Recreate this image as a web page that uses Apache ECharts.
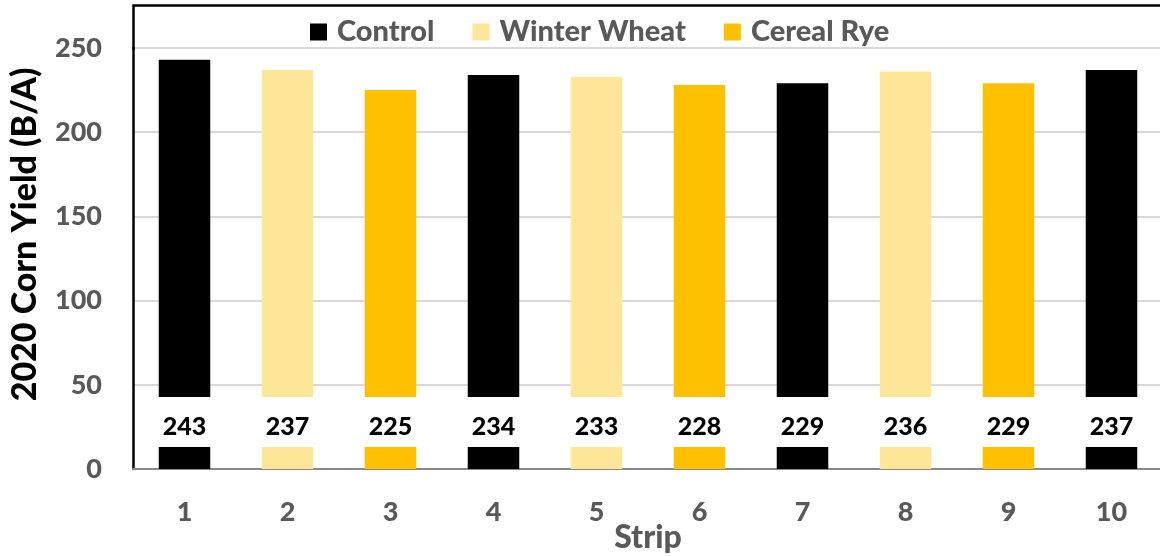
<!DOCTYPE html>
<html>
<head>
<meta charset="utf-8">
<script src="https://cdn.jsdelivr.net/npm/echarts@6/dist/echarts.min.js"></script>
<style>
html,body{margin:0;padding:0;background:#fff;}
#chart{width:1160px;height:556px;}
</style>
</head>
<body>
<div id="chart"></div>
<script>
const categories = ['1','2','3','4','5','6','7','8','9','10'];
const control     = [243, null, null, 234, null, null, 229, null, null, 237];
const winterWheat = [null, 237, null, null, 233, null, null, 236, null, null];
const cerealRye   = [null, null, 225, null, null, 228, null, null, 229, null];
const seriesNames = ['Control', 'Winter Wheat', 'Cereal Rye'];
const seriesColors = ['#000000', '#FFE699', '#FFC000'];

const FONT = 'Lato';
const chart = echarts.init(document.getElementById('chart'), null, {renderer: 'canvas'});

const labelCfg = {
  show: true,
  position: 'insideBottom',
  distance: 22,
  color: '#000',
  fontFamily: FONT,
  fontWeight: 900,
  fontSize: 25,
  lineHeight: 25,
  backgroundColor: '#fff',
  padding: [17, 8, 8, 8]
};

function mk(name, data, color) {
  return {
    name: name,
    type: 'bar',
    stack: 'all',
    barWidth: '50%',
    data: data,
    itemStyle: {color: color},
    label: labelCfg
  };
}

chart.setOption({
  animation: false,
  backgroundColor: '#fff',
  grid: {left: 133, top: 48, width: 1030, height: 421, containLabel: false, outerBoundsMode: 'none'},
  legend: {
    left: 310,
    top: 16,
    padding: 0,
    itemWidth: 17,
    itemHeight: 17,
    itemGap: 38,
    icon: 'rect',
    data: seriesNames,
    textStyle: {color: '#595959', fontFamily: FONT, fontWeight: 900, fontSize: 29, lineHeight: 32, padding: [0,0,0,5]}
  },
  xAxis: {
    type: 'category',
    data: categories,
    name: 'Strip',
    nameLocation: 'middle',
    nameGap: 53,
    nameMoveOverlap: false,
    nameTextStyle: {color: '#595959', fontFamily: FONT, fontWeight: 900, fontSize: 32},
    axisLine: {lineStyle: {color: '#898989', width: 2}},
    axisTick: {show: false},
    axisLabel: {color: '#595959', fontFamily: FONT, fontWeight: 900, fontSize: 27, margin: 30}
  },
  yAxis: {
    type: 'value',
    min: 0,
    max: 250,
    interval: 50,
    name: '2020 Corn Yield (B/A)',
    nameLocation: 'middle',
    nameGap: 91,
    nameMoveOverlap: false,
    nameTextStyle: {color: '#000', fontFamily: FONT, fontWeight: 900, fontSize: 34, padding: [0, 0, 0, 48]},
    axisLine: {show: true, lineStyle: {color: '#000', width: 2.5}},
    axisTick: {show: false},
    splitLine: {lineStyle: {color: '#D9D9D9', width: 2}},
    axisLabel: {color: '#595959', fontFamily: FONT, fontWeight: 900, fontSize: 27, margin: 31}
  },
  graphic: [
    {type: 'polyline', silent: true, z: 10,
     shape: {points: [[133.5, 50], [133.5, 5.5], [1160, 5.5]]},
     style: {stroke: '#000', lineWidth: 2.5, fill: null}}
  ],
  series: [
    mk(seriesNames[0], control, seriesColors[0]),
    mk(seriesNames[1], winterWheat, seriesColors[1]),
    mk(seriesNames[2], cerealRye, seriesColors[2])
  ]
});
</script>
</body>
</html>
